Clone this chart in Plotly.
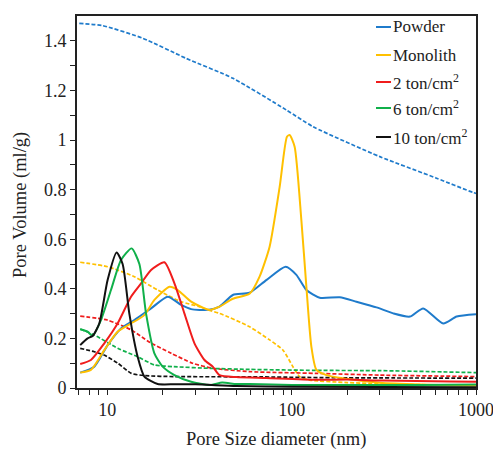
import plotly.graph_objects as go

# ---------------- data ----------------
powder_x = [7.13, 8.5, 10.04, 11.87, 14.02, 17.28, 21.27, 25.15, 28.51, 35.09, 40.62, 47.97, 59.1,
            72.87, 92.8, 106.1, 120.2, 142.0, 182.4, 224.7, 288.6, 355.3, 437.8, 517.1, 664.2, 785.6, 1000]
powder_y = [0.062, 0.086, 0.173, 0.24, 0.274, 0.321, 0.368, 0.335, 0.318, 0.315, 0.328, 0.375, 0.384,
            0.435, 0.489, 0.456, 0.395, 0.364, 0.366, 0.348, 0.325, 0.301, 0.288, 0.321, 0.26, 0.288, 0.297]

monolith_x = [7.13, 8.15, 9.63, 11.37, 13.45, 15.89, 18.01, 21.73, 24.11, 28.51, 35.84, 40.62, 47.97,
              59.1, 66.99, 75.93, 86.05, 94.3, 97.5, 103.8, 112.9, 120.2, 127.9, 136.2, 154.4, 206.7,
              300, 500, 1000]
monolith_y = [0.062, 0.073, 0.153, 0.227, 0.26, 0.294, 0.355, 0.408, 0.395, 0.348, 0.315, 0.328, 0.36,
              0.38, 0.449, 0.57, 0.81, 1.013, 1.02, 0.973, 0.677, 0.408, 0.167, 0.073, 0.052, 0.035,
              0.021, 0.014, 0.01]

ton2_x = [7.13, 8.15, 9.63, 11.37, 13.45, 15.25, 17.28, 20.41, 23.13, 26.22, 29.71, 33.67, 37.35,
          40.62, 50, 72.87, 136, 200, 312, 722, 1000]
ton2_y = [0.097, 0.113, 0.18, 0.26, 0.368, 0.422, 0.476, 0.507, 0.422, 0.30, 0.18, 0.113, 0.086,
          0.052, 0.044, 0.04, 0.033, 0.034, 0.03, 0.026, 0.025]

ton6_x = [7.13, 7.82, 8.32, 9.24, 10.47, 11.87, 13.55, 14.93, 16.23, 18.01, 19.98, 23.13, 28.51,
          36, 42, 50, 59.1, 100, 206.7, 500, 1000]
ton6_y = [0.237, 0.227, 0.21, 0.274, 0.395, 0.516, 0.563, 0.50, 0.30, 0.14, 0.086, 0.052, 0.025,
          0.012, 0.022, 0.016, 0.016, 0.012, 0.012, 0.012, 0.014]

ton10_x = [7.13, 7.82, 8.32, 9.05, 10.04, 11.23, 12.11, 13.17, 14.61, 15.89, 18.77, 23.13, 30,
           50, 100, 1000]
ton10_y = [0.173, 0.20, 0.21, 0.26, 0.435, 0.546, 0.50, 0.30, 0.126, 0.046, 0.016, 0.015, 0.015,
           0.008, 0.005, 0.003]

powder_cum_x = [7.05, 9.43, 15.6, 26.8, 48.0, 93.6, 130.5, 300.7, 611, 966, 1000]
powder_cum_y = [1.470, 1.461, 1.41, 1.329, 1.249, 1.121, 1.054, 0.933, 0.846, 0.788, 0.785]

monolith_cum_x = [7.13, 10.04, 14.02, 18.77, 25.15, 31.62, 35.09, 40.62, 59.1, 75.93, 89.7, 101.6,
                  110.5, 125.3, 200, 400, 1000]
monolith_cum_y = [0.507, 0.489, 0.449, 0.395, 0.348, 0.328, 0.315, 0.301, 0.247, 0.194, 0.153, 0.086,
                  0.046, 0.032, 0.022, 0.015, 0.01]

ton2_cum_x = [7.13, 10, 13.5, 17.1, 22.2, 29, 37, 59, 136, 300, 1000]
ton2_cum_y = [0.29, 0.274, 0.234, 0.183, 0.14, 0.10, 0.08, 0.066, 0.059, 0.052, 0.046]

ton6_cum_x = [7.13, 8.5, 11.4, 14.6, 18, 23, 37, 59, 136, 300, 1000]
ton6_cum_y = [0.238, 0.214, 0.16, 0.126, 0.093, 0.086, 0.079, 0.075, 0.071, 0.07, 0.062]

ton10_cum_x = [7.13, 8.5, 9.6, 11.4, 13.5, 15.9, 23, 60, 200, 1000]
ton10_cum_y = [0.16, 0.146, 0.133, 0.10, 0.059, 0.05, 0.046, 0.045, 0.041, 0.04]

names = ["Powder", "Monolith", "2 ton/cm<sup>2</sup>", "6 ton/cm<sup>2</sup>", "10 ton/cm<sup>2</sup>"]
colors = ["#1F7BCB", "#FFC000", "#F01C1C", "#10B04A", "#111111"]

x_title = "Pore Size diameter (nm)"
y_title = "Pore Volume (ml/g)"

solid = [(powder_x, powder_y), (monolith_x, monolith_y), (ton2_x, ton2_y),
         (ton6_x, ton6_y), (ton10_x, ton10_y)]
dashed = [(powder_cum_x, powder_cum_y), (monolith_cum_x, monolith_cum_y), (ton2_cum_x, ton2_cum_y),
          (ton6_cum_x, ton6_cum_y), (ton10_cum_x, ton10_cum_y)]

x_major = [10, 100, 1000]
x_minor = [7, 8, 9, 20, 30, 40, 50, 60, 70, 80, 90, 200, 300, 400, 500, 600, 700, 800, 900]
y_major = [0, 0.2, 0.4, 0.6, 0.8, 1.0, 1.2, 1.4]
y_labels = ["0", "0.2", "0.4", "0.6", "0.8", "1", "1.2", "1.4"]

FONT = "Liberation Serif, Times New Roman, serif"
INK = "#222222"

fig = go.Figure()
for (x, y), c in zip(dashed, colors):
    fig.add_trace(go.Scatter(x=x, y=y, mode="lines", line=dict(color=c, width=1.7, dash="4px,2px",
                             shape="spline", smoothing=0.6), showlegend=False, hoverinfo="skip"))
for i, ((x, y), c, n) in enumerate(zip(solid, colors, names)):
    fig.add_trace(go.Scatter(x=x, y=y, mode="lines", name=n, showlegend=False,
                             line=dict(color=c, width=2, shape="spline", smoothing=0.6)))

axis_common = dict(showline=True, linecolor=INK, linewidth=1.6, mirror=True, showgrid=False,
                   zeroline=False, ticks="outside", ticklen=5, tickwidth=1.3, tickcolor=INK,
                   automargin=False, ticklabeloverflow="allow",
                   tickfont=dict(family=FONT, size=18, color=INK))

fig.update_xaxes(type="log", range=[0.8357, 3.0], tickmode="array", tickvals=x_major,
                 ticktext=["10", "100", "1000"],
                 minor=dict(tickmode="array", tickvals=x_minor, ticks="outside", ticklen=5,
                            tickwidth=1.3, tickcolor=INK),
                 **axis_common)
fig.update_yaxes(range=[0, 1.5], tickmode="array", tickvals=y_major, ticktext=y_labels,
                 minor=dict(tickmode="array", tickvals=[0.1, 0.3, 0.5, 0.7, 0.9, 1.1, 1.3],
                            ticks="outside", ticklen=5, tickwidth=1.3, tickcolor=INK),
                 **axis_common)

PL, PR, PT, PB = 77, 476, 16, 388
W, H = PR - PL, PB - PT

# axis titles placed as annotations (exact positions)
fig.add_annotation(xref="paper", yref="paper", x=(276 - PL) / W, y=(PB - 440) / H,
                   xanchor="center", yanchor="middle", text=x_title, showarrow=False,
                   borderpad=0, font=dict(family=FONT, size=18.5, color=INK))
fig.add_annotation(xref="paper", yref="paper", x=(20 - PL) / W, y=(PB - 205) / H,
                   xanchor="center", yanchor="middle", text=y_title, showarrow=False, textangle=-90,
                   borderpad=0, font=dict(family=FONT, size=18.5, color=INK))

# manual legend (short line samples like the reference)
legend_rows_px = [27, 55, 82, 108, 137]
for name, c, py in zip(names, colors, legend_rows_px):
    yp = (PB - py) / H
    fig.add_shape(type="line", xref="paper", yref="paper",
                  x0=(376 - PL) / W, x1=(391 - PL) / W, y0=yp, y1=yp,
                  line=dict(color=c, width=2))
    fig.add_annotation(xref="paper", yref="paper", x=(391 - PL) / W, y=yp, xanchor="left",
                       yanchor="middle", text=name, showarrow=False,
                       font=dict(family=FONT, size=17, color=INK))

fig.update_layout(
    width=493, height=451,
    margin=dict(l=PL, r=493 - PR, t=PT, b=451 - PB),
    paper_bgcolor="white", plot_bgcolor="white",
    showlegend=False,
)

fig.write_html("out.html")
